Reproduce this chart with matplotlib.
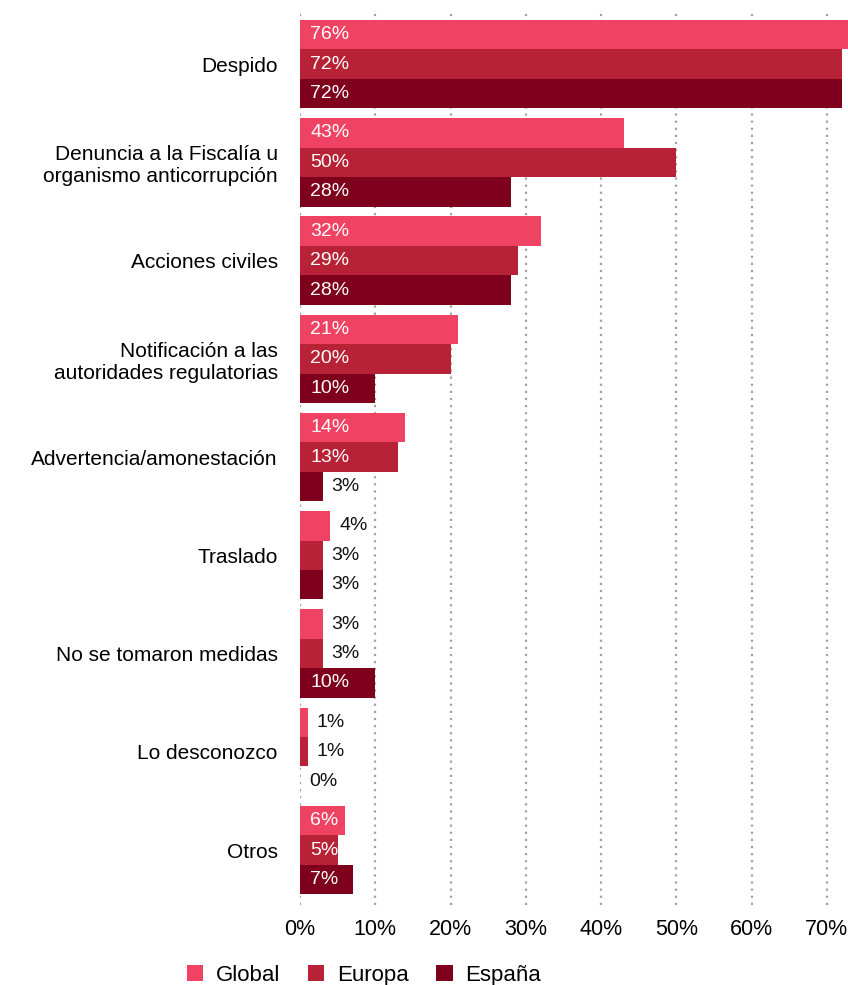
import matplotlib
matplotlib.use("Agg")
import matplotlib.pyplot as plt
from matplotlib.patches import Patch
import numpy as np

plt.rcParams['font.family'] = ['Liberation Sans', 'DejaVu Sans']

categories = [
    "Despido",
    "Denuncia a la Fiscalía u\norganismo anticorrupción",
    "Acciones civiles",
    "Notificación a las\nautoridades regulatorias",
    "Advertencia/amonestación",
    "Traslado",
    "No se tomaron medidas",
    "Lo desconozco",
    "Otros",
]
global_vals = [76, 43, 32, 21, 14, 4, 3, 1, 6]
europa_vals = [72, 50, 29, 20, 13, 3, 3, 1, 5]
espana_vals = [72, 28, 28, 10, 3, 3, 10, 0, 7]

series_names = ["Global", "Europa", "España"]
colors = ["#F04262", "#B82236", "#7E001C"]
xticks = [0, 10, 20, 30, 40, 50, 60, 70]

fig = plt.figure(figsize=(8.48, 9.85), dpi=100)
ax = fig.add_axes([0.3538, 0.0812, 0.6462, 0.9066])

y = np.arange(len(categories))
h = 0.3
offsets = [-h, 0, h]

for vals, off, col in zip([global_vals, europa_vals, espana_vals], offsets, colors):
    ax.barh(y + off, vals, height=h, color=col, zorder=2)
    for yi, v in zip(y, vals):
        if v >= 5:
            ax.annotate(f"{v}%", (0, yi + off), xytext=(10, 0), textcoords="offset pixels",
                        ha="left", va="center", color="white", fontsize=14, zorder=3)
        else:
            ax.annotate(f"{v}%", (v, yi + off), xytext=(9, 0), textcoords="offset pixels",
                        ha="left", va="center", color="#111111", fontsize=14, zorder=3)

ax.set_xlim(0, 72.8)
ax.set_ylim(8.56, -0.53)
ax.set_yticks(y)
ax.set_yticklabels(categories, fontsize=15, linespacing=1.2, va="center_baseline")
ax.set_xticks(xticks)
ax.set_xticklabels([f"{t}%" for t in xticks], fontsize=15.5)
ax.tick_params(axis="both", length=0)
ax.tick_params(axis="y", pad=16)
ax.tick_params(axis="x", pad=10)

for sp in ax.spines.values():
    sp.set_visible(False)

ax.grid(axis="x", color="#A8A09C", linestyle=(0, (1, 2.2)), linewidth=1.6, zorder=0)
ax.set_axisbelow(True)

handles = [Patch(facecolor=c, edgecolor="none", label=n) for c, n in zip(colors, series_names)]
fig.legend(handles=handles, loc="center", bbox_to_anchor=(0.429, 0.01), ncol=3,
           frameon=False, fontsize=16, handlelength=0.75, handleheight=0.75,
           handletextpad=0.55, columnspacing=1.25)

fig.savefig("out.png", dpi=100)
